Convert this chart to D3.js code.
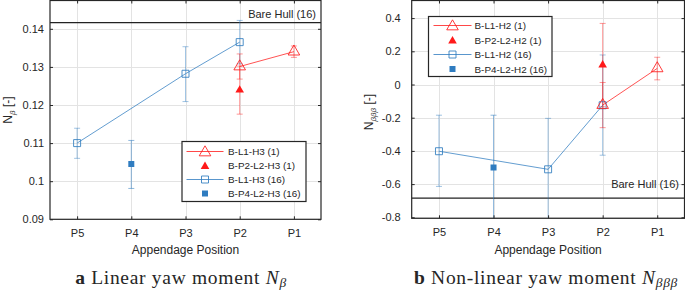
<!DOCTYPE html>
<html>
<head>
<meta charset="utf-8">
<script src="https://cdn.jsdelivr.net/npm/d3@7"></script>
<style>
  html, body { margin: 0; padding: 0; background: #fff; }
  svg { display: block; }
  text { font-family: "Liberation Sans", Arial, sans-serif; fill: #262626; }
</style>
</head>
<body>
<svg id="chart" width="685" height="291"></svg>
<script>
// ---------- data ----------
const positions = ["P5", "P4", "P3", "P2", "P1"];

// Panel a: linear yaw moment N_beta
const aYTicks = [0.09, 0.10, 0.11, 0.12, 0.13, 0.14];
const aBareHull = 0.1416;
const aL1H3_1_pos = ["P2", "P1"];
const aL1H3_1_val = [0.1301, 0.1340];
const aL1H3_1_lo = [0.1268, 0.1325];
const aL1H3_1_hi = [0.1334, 0.1355];
const aP2L2H3_1_pos = ["P2"];
const aP2L2H3_1_val = [0.1239];
const aP2L2H3_1_lo = [0.1176];
const aP2L2H3_1_hi = [0.1302];
const aL1H3_16_pos = ["P5", "P3", "P2"];
const aL1H3_16_val = [0.1100, 0.1282, 0.1365];
const aL1H3_16_lo = [0.1060, 0.1209, 0.1308];
const aL1H3_16_hi = [0.1139, 0.1353, 0.1422];
const aP4L2H3_16_pos = ["P4"];
const aP4L2H3_16_val = [0.1045];
const aP4L2H3_16_lo = [0.0981];
const aP4L2H3_16_hi = [0.1107];
const aLegend = ["B-L1-H3 (1)", "B-P2-L2-H3 (1)", "B-L1-H3 (16)", "B-P4-L2-H3 (16)"];

// Panel b: non-linear yaw moment N_beta beta beta
const bYTicks = [-0.8, -0.6, -0.4, -0.2, 0, 0.2, 0.4];
const bBareHull = -0.685;
const bL1H2_1_pos = ["P2", "P1"];
const bL1H2_1_val = [-0.124, 0.097];
const bL1H2_1_lo = [-0.260, 0.028];
const bL1H2_1_hi = [0.012, 0.164];
const bP2L2H2_1_pos = ["P2"];
const bP2L2H2_1_val = [0.117];
const bP2L2H2_1_lo = [-0.134];
const bP2L2H2_1_hi = [0.368];
const bL1H2_16_pos = ["P5", "P3", "P2"];
const bL1H2_16_val = [-0.402, -0.511, -0.125];
const bL1H2_16_lo = [-0.614, -0.818, -0.426];
const bL1H2_16_hi = [-0.185, -0.204, 0.178];
const bP4L2H2_16_pos = ["P4"];
const bP4L2H2_16_val = [-0.500];
const bP4L2H2_16_lo = [-0.815];
const bP4L2H2_16_hi = [-0.185];
const bLegend = ["B-L1-H2 (1)", "B-P2-L2-H2 (1)", "B-L1-H2 (16)", "B-P4-L2-H2 (16)"];

// ---------- styling ----------
const RED = "#ff1a1a";
const BLUE = "#2f7cc0";
const AXIS = "#262626";
const GRID = "#e3e3e3";

const svg = d3.select("#chart");

function pack(pos, val, lo, hi) {
  return pos.map((p, i) => ({ p, v: val[i], lo: lo[i], hi: hi[i] }));
}

function drawPanel(cfg) {
  const g = svg.append("g");
  const x = d3.scalePoint().domain(positions).range([cfg.x0, cfg.x1]).padding(0.5);
  const y = d3.scaleLinear().domain(cfg.yDomain).range([cfg.y1, cfg.y0]);
  const id = "clip" + cfg.name;
  svg.append("clipPath").attr("id", id).append("rect")
    .attr("x", cfg.x0).attr("y", cfg.y0).attr("width", cfg.x1 - cfg.x0).attr("height", cfg.y1 - cfg.y0);

  // grid
  g.append("g").selectAll("line").data(cfg.yTicks).join("line")
    .attr("x1", cfg.x0).attr("x2", cfg.x1)
    .attr("y1", d => Math.round(y(d)) + 0.5).attr("y2", d => Math.round(y(d)) + 0.5)
    .attr("stroke", GRID).attr("stroke-width", 1);
  g.append("g").selectAll("line").data(positions).join("line")
    .attr("x1", d => Math.round(x(d)) + 0.5).attr("x2", d => Math.round(x(d)) + 0.5)
    .attr("y1", cfg.y0).attr("y2", cfg.y1)
    .attr("stroke", GRID).attr("stroke-width", 1);

  // bare hull line
  g.append("line").attr("x1", cfg.x0).attr("x2", cfg.x1)
    .attr("y1", y(cfg.bare)).attr("y2", y(cfg.bare))
    .attr("stroke", "#222").attr("stroke-width", 1.3);
  g.append("text").attr("x", cfg.bareLabelX).attr("y", cfg.bareLabelY)
    .attr("text-anchor", "end").attr("font-size", 11).text("Bare Hull (16)");

  const plot = g.append("g").attr("clip-path", `url(#${id})`);

  function errorBars(data, color, op) {
    const eg = plot.append("g").attr("stroke", color).attr("stroke-opacity", op).attr("stroke-width", 1);
    data.forEach(d => {
      const cx = x(d.p);
      eg.append("line").attr("x1", cx).attr("x2", cx).attr("y1", y(d.lo)).attr("y2", y(d.hi));
      eg.append("line").attr("x1", cx - 3).attr("x2", cx + 3).attr("y1", y(d.lo)).attr("y2", y(d.lo));
      eg.append("line").attr("x1", cx - 3).attr("x2", cx + 3).attr("y1", y(d.hi)).attr("y2", y(d.hi));
    });
  }
  function lineSeries(data, color) {
    plot.append("path").datum(data)
      .attr("d", d3.line().x(d => x(d.p)).y(d => y(d.v)))
      .attr("fill", "none").attr("stroke", color).attr("stroke-opacity", 0.75).attr("stroke-width", 1);
  }
  const triOpen = d3.symbol().type(d3.symbolTriangle).size(58);
  const triFill = d3.symbol().type(d3.symbolTriangle).size(32);
  function markers(data, kind, color, gg, xs, ys) {
    (gg || plot).selectAll(null).data(data).join("path")
      .attr("transform", d => `translate(${xs ? xs(d) : x(d.p)},${ys ? ys(d) : y(d.v)})`)
      .attr("d", () => {
        if (kind === "triOpen") return triOpen();
        if (kind === "triFill") return triFill();
        if (kind === "sqOpen") return "M-3.5,-3.5H3.5V3.5H-3.5Z";
        return "M-3,-3H3V3H-3Z";
      })
      .attr("fill", kind.endsWith("Fill") ? color : "none")
      .attr("stroke", color).attr("stroke-width", kind.endsWith("Fill") ? 0 : 1)
      .attr("stroke-opacity", 0.85);
  }

  const s1 = pack(...cfg.s1), s2 = pack(...cfg.s2), s3 = pack(...cfg.s3), s4 = pack(...cfg.s4);
  errorBars(s3, BLUE, 0.45);
  errorBars(s4, BLUE, 0.55);
  errorBars(s1, RED, 0.45);
  errorBars(s2, RED, 0.45);
  lineSeries(s3, BLUE);
  lineSeries(s1, RED);
  markers(s3, "sqOpen", BLUE);
  markers(s4, "sqFill", BLUE);
  markers(s1, "triOpen", RED);
  markers(s2, "triFill", RED);

  // axes box
  const box = g.append("g");
  box.append("rect").attr("x", cfg.x0).attr("y", cfg.y0)
    .attr("width", cfg.x1 - cfg.x0).attr("height", cfg.y1 - cfg.y0)
    .attr("fill", "none").attr("stroke", AXIS).attr("stroke-width", 1.2);

  const yAxisL = d3.axisLeft(y).tickValues(cfg.yTicks).tickSize(-3).tickPadding(cfg.yPad)
    .tickFormat(cfg.yFmt);
  const ya = box.append("g").attr("transform", `translate(${cfg.x0},0)`).call(yAxisL);
  ya.select(".domain").remove();
  ya.selectAll("line").attr("stroke", AXIS);
  ya.selectAll("text").attr("font-size", 11).attr("font-family", "Liberation Sans, Arial, sans-serif").attr("fill", AXIS);
  const yAxisR = d3.axisRight(y).tickValues(cfg.yTicks).tickSize(-3).tickFormat("");
  const yr = box.append("g").attr("transform", `translate(${cfg.x1},0)`).call(yAxisR);
  yr.select(".domain").remove();
  yr.selectAll("line").attr("stroke", AXIS);

  const xAxis = d3.axisBottom(x).tickSize(-3).tickPadding(10);
  const xa = box.append("g").attr("transform", `translate(0,${cfg.y1})`).call(xAxis);
  xa.select(".domain").remove();
  xa.selectAll("line").attr("stroke", AXIS);
  xa.selectAll("text").attr("font-size", 11).attr("font-family", "Liberation Sans, Arial, sans-serif").attr("fill", AXIS);
  const xAxisT = d3.axisTop(x).tickSize(-3).tickFormat("");
  const xt = box.append("g").attr("transform", `translate(0,${cfg.y0})`).call(xAxisT);
  xt.select(".domain").remove();
  xt.selectAll("line").attr("stroke", AXIS);

  // x label
  g.append("text").attr("x", (cfg.x0 + cfg.x1) / 2).attr("y", 254)
    .attr("text-anchor", "middle").attr("font-size", 12).text("Appendage Position");

  // y label
  const yl = g.append("text")
    .attr("transform", `translate(${cfg.yLabelX},${cfg.yLabelY}) rotate(-90)`)
    .attr("text-anchor", "middle").attr("font-size", 12);
  yl.append("tspan").text("N");
  yl.append("tspan").attr("dy", 3).attr("font-size", 8).attr("font-style", "italic").text(cfg.sub);
  yl.append("tspan").attr("dy", -3).text(" [-]");

  // legend
  const L = cfg.legend;
  const lg = g.append("g");
  lg.append("rect").attr("x", L.x).attr("y", L.y).attr("width", L.w).attr("height", L.h)
    .attr("fill", "#fff").attr("stroke", AXIS).attr("stroke-width", 1.2);
  const kinds = [["triOpen", RED, true], ["triFill", RED, false], ["sqOpen", BLUE, true], ["sqFill", BLUE, false]];
  cfg.legendLabels.forEach((lab, i) => {
    const cy = L.y + L.first + i * L.step;
    const [kind, color, hasLine] = kinds[i];
    if (hasLine) {
      lg.append("line").attr("x1", L.lx0).attr("x2", L.lx1).attr("y1", cy).attr("y2", cy)
        .attr("stroke", color).attr("stroke-opacity", 0.8).attr("stroke-width", 1.2);
    }
    markers([{}], kind, color, lg, () => (L.lx0 + L.lx1) / 2, () => cy + (kind.startsWith("tri") ? 1 : 0));
    lg.append("text").attr("x", L.tx).attr("y", cy + 3.5).attr("font-size", 9.9).text(lab);
  });

  // caption
  const cap = g.append("text").attr("x", cfg.capX).attr("y", 284)
    .attr("text-anchor", "middle")
    .style("font-family", "'Liberation Serif', 'DejaVu Serif', serif").attr("font-size", 19.5)
    .attr("letter-spacing", 0.7).attr("fill", "#111");
  cap.append("tspan").attr("font-weight", "bold").text(cfg.capLetter);
  cap.append("tspan").text(" " + cfg.capText + " ");
  cap.append("tspan").attr("font-style", "italic").text("N");
  cap.append("tspan").attr("font-style", "italic").attr("font-size", 13.5).attr("dy", 3).text(cfg.sub);
}

drawPanel({
  name: "a", x0: 50, x1: 321, y0: 0.5, y1: 219.3,
  yDomain: [0.09, 0.09 + 218.8 / 3810],
  yTicks: aYTicks, yFmt: d => String(+d.toFixed(2)), yPad: 6,
  bare: aBareHull, bareLabelX: 316, bareLabelY: 18,
  s1: [aL1H3_1_pos, aL1H3_1_val, aL1H3_1_lo, aL1H3_1_hi],
  s2: [aP2L2H3_1_pos, aP2L2H3_1_val, aP2L2H3_1_lo, aP2L2H3_1_hi],
  s3: [aL1H3_16_pos, aL1H3_16_val, aL1H3_16_lo, aL1H3_16_hi],
  s4: [aP4L2H3_16_pos, aP4L2H3_16_val, aP4L2H3_16_lo, aP4L2H3_16_hi],
  legendLabels: aLegend,
  legend: { x: 182, y: 141.5, w: 124, h: 60, first: 10, step: 14, lx0: 186.5, lx1: 223.5, tx: 228 },
  yLabelX: 12, yLabelY: 110, sub: "β",
  capX: 181, capLetter: "a", capText: "Linear yaw moment"
});

drawPanel({
  name: "b", x0: 411.7, x1: 684.5, y0: 0.5, y1: 218.3,
  yDomain: [-0.8 - 1 / 165, 0.4 + 17.5 / 165],
  yTicks: bYTicks, yFmt: d => String(+d.toFixed(1)), yPad: 11,
  bare: bBareHull, bareLabelX: 679, bareLabelY: 188,
  s1: [bL1H2_1_pos, bL1H2_1_val, bL1H2_1_lo, bL1H2_1_hi],
  s2: [bP2L2H2_1_pos, bP2L2H2_1_val, bP2L2H2_1_lo, bP2L2H2_1_hi],
  s3: [bL1H2_16_pos, bL1H2_16_val, bL1H2_16_lo, bL1H2_16_hi],
  s4: [bP4L2H2_16_pos, bP4L2H2_16_val, bP4L2H2_16_lo, bP4L2H2_16_hi],
  legendLabels: bLegend,
  legend: { x: 428.5, y: 16.5, w: 123.5, h: 60, first: 9, step: 14.5, lx0: 433.5, lx1: 471.5, tx: 474.5 },
  yLabelX: 373, yLabelY: 112, sub: "βββ",
  capX: 546, capLetter: "b", capText: "Non-linear yaw moment"
});
</script>
</body>
</html>
